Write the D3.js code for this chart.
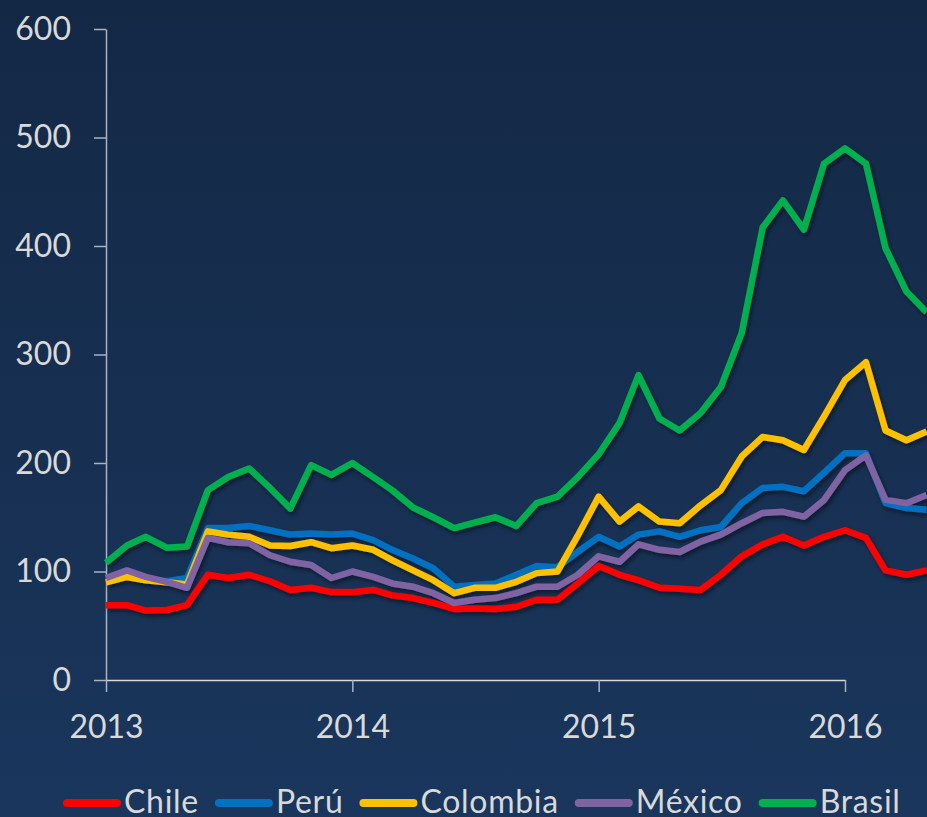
<!DOCTYPE html>
<html>
<head>
<meta charset="utf-8">
<script src="https://cdn.jsdelivr.net/npm/d3@7"></script>
<style>
  body { margin: 0; background: #162f53; }
  svg { display: block; }
  .axis text { font-family: Lato, "Open Sans", sans-serif; font-size: 32px; fill: #d9d9d9; }
  .legendtext { font-family: Lato, "Open Sans", sans-serif; font-size: 32px; fill: #d9d9d9; letter-spacing: 0.7px; }
</style>
</head>
<body>
<div id="chart"></div>
<script>
// monthly index, Jan 2013 .. May 2016
const months = d3.timeMonth.range(new Date(2013, 0, 1), new Date(2016, 5, 1));

const countries = ["Chile", "Perú", "Colombia", "México", "Brasil"];

const chile = [69, 69, 64, 64.5, 69, 97, 94, 97, 91, 83, 85, 81, 81, 83, 78, 75.5, 71, 65.5, 66, 65.5,
  67.5, 74, 74, 89, 105, 97, 92, 85, 84, 83, 97, 114, 125, 132, 124, 132, 138, 131, 101, 97, 101];
const peru = [92, 96, 93, 91, 94, 140, 140, 142, 138, 134, 135, 134, 135, 129, 120, 112, 103, 86, 87.5, 89,
  97, 105, 104, 118, 132, 123, 134, 137, 132, 138, 141, 163, 177, 178, 174, 191, 209, 209, 163, 158.5, 157];
const colombia = [90, 95, 92, 90, 88, 137, 134, 132, 124, 123.5, 127, 121.5, 124, 120, 110.5, 101, 92, 80, 85, 85,
  90.5, 98.5, 100, 133, 169, 146, 160, 146, 144.5, 161, 175, 206, 224, 221, 212, 243, 276.5, 293, 230, 221, 229];
const mexico = [94, 101, 95, 90.5, 85, 131, 127, 126, 115, 109, 106, 94, 100, 95, 89, 86, 80, 71, 74, 75.5,
  80, 86, 86, 97, 114, 109, 125, 120, 118, 127.5, 134, 144.5, 154, 155, 150.5, 166, 193.5, 207, 166, 163, 170.5];
const brasil = [108, 124, 132, 122, 123, 175, 187, 195, 177, 158, 198, 189, 200, 187, 175, 159, 150, 140, 145, 150,
  142, 163, 169, 187, 208, 237, 281, 241, 230, 246, 270, 320, 417, 442, 415, 476, 490, 476, 398, 358, 339];

const yTicks = [0, 100, 200, 300, 400, 500, 600];
const xTicks = [2013, 2014, 2015, 2016];
const colors = ["#ff0000", "#0070c0", "#ffc000", "#8064a2", "#00b050"];

class LineChart {

  constructor(_series) {
    this.margin = {top: 29, right: 0, bottom: 137, left: 106};
    this.fullWidth = 927;
    this.fullHeight = 817;
    this.series = _series;
    this.initVis();
  }

  initVis() {
    let vis = this;

    vis.svgRoot = d3.select("#chart")
      .append("svg")
        .attr("width", vis.fullWidth)
        .attr("height", vis.fullHeight);

    let defs = vis.svgRoot.append("defs");
    let grad = defs.append("linearGradient")
      .attr("id", "bg")
      .attr("x1", 0).attr("y1", 0).attr("x2", 0).attr("y2", 1);
    grad.append("stop").attr("offset", "0%").attr("stop-color", "#132845");
    grad.append("stop").attr("offset", "100%").attr("stop-color", "#1a365c");

    defs.append("filter")
      .attr("id", "shadow")
      .attr("x", "-5%").attr("y", "-5%").attr("width", "110%").attr("height", "120%")
      .append("feDropShadow")
        .attr("dx", 2).attr("dy", 3)
        .attr("stdDeviation", 2)
        .attr("flood-color", "#000000")
        .attr("flood-opacity", 0.45);

    vis.svgRoot.append("rect")
      .attr("width", vis.fullWidth)
      .attr("height", vis.fullHeight)
      .attr("fill", "url(#bg)");

    // scales: y 0..600, x a date axis with Jan 2016 at x=845
    vis.yScale = d3.scaleLinear()
      .domain([0, 600])
      .range([680, 29]);

    vis.xScale = d3.scaleTime()
      .domain([new Date(2013, 0, 1), new Date(2016, 0, 1)])
      .range([106, 845]);

    vis.yAxis = d3.axisLeft(vis.yScale)
      .tickValues(yTicks)
      .tickSize(12)
      .tickSizeOuter(0)
      .tickPadding(23);

    vis.xAxis = d3.axisBottom(vis.xScale)
      .tickValues(xTicks.map(y => new Date(y, 0, 1)))
      .tickFormat(d3.timeFormat("%Y"))
      .tickSize(12)
      .tickSizeOuter(0);

    vis.yAxisG = vis.svgRoot.append("g")
      .attr("class", "axis y-axis")
      .attr("transform", "translate(106,0)")
      .call(vis.yAxis);

    vis.xAxisG = vis.svgRoot.append("g")
      .attr("class", "axis x-axis")
      .attr("transform", "translate(0,680)")
      .call(vis.xAxis);

    vis.yAxisG.select(".domain").attr("stroke", "#a9b3c2").attr("stroke-width", 1.5);
    vis.yAxisG.selectAll(".tick line").attr("stroke", "#a9b3c2").attr("stroke-width", 1.5);
    vis.xAxisG.select(".domain").attr("stroke", "#d9d9d9").attr("stroke-width", 1.5);
    vis.xAxisG.selectAll(".tick line").attr("stroke", "#a9b3c2").attr("stroke-width", 1.5);
    vis.xAxisG.selectAll(".tick text").attr("y", 58).attr("dy", 0);
    vis.svgRoot.selectAll(".axis text").attr("font-family", null).attr("font-size", null).attr("fill", null);

    vis.line = d3.line()
      .x((d, i) => vis.xScale(months[i]))
      .y(d => vis.yScale(d));

    vis.renderVis();
  }

  renderVis() {
    let vis = this;

    vis.svgRoot.append("g")
      .attr("filter", "url(#shadow)")
      .selectAll("path")
      .data(vis.series)
      .join("path")
        .attr("d", d => vis.line(d.values))
        .attr("fill", "none")
        .attr("stroke", d => d.color)
        .attr("stroke-width", 6.5)
        .attr("stroke-linejoin", "round");

    // legend along the bottom
    let legend = vis.svgRoot.append("g").attr("class", "legend");
    let x = 63;
    vis.series.forEach(s => {
      legend.append("line")
        .attr("x1", x + 4).attr("x2", x + 54)
        .attr("y1", 803).attr("y2", 803)
        .attr("stroke", s.color)
        .attr("stroke-width", 8)
        .attr("stroke-linecap", "round");
      let t = legend.append("text")
        .attr("class", "legendtext")
        .attr("x", x + 61)
        .attr("y", 813)
        .text(s.name);
      x = x + 61 + t.node().getComputedTextLength() + 16;
    });
  }
}

const seriesValues = [chile, peru, colombia, mexico, brasil];
const series = countries.map((c, i) => ({name: c, color: colors[i], values: seriesValues[i]}));
new LineChart(series);
</script>
</body>
</html>
